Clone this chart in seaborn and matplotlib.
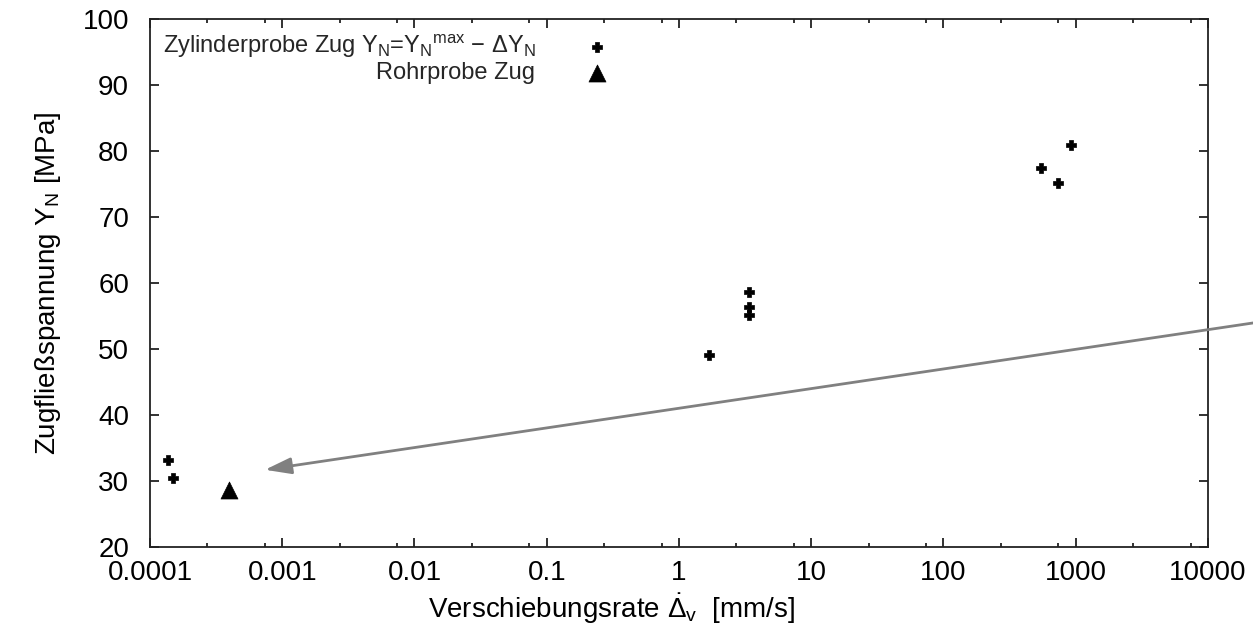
import numpy as np
import pandas as pd
import matplotlib
matplotlib.use("Agg")
import matplotlib.pyplot as plt
import matplotlib.ticker as mticker
import seaborn as sns

# ---- data ----
zyl_rate = [1.37e-4, 1.49e-4, 1.69, 3.38, 3.38, 3.38, 546, 735, 920]
zyl_stress = [33.2, 30.4, 49.1, 58.6, 56.4, 55.2, 77.4, 75.2, 80.9]
rohr_rate = [3.95e-4]
rohr_stress = [28.7]
x_ticks = [1e-4, 1e-3, 1e-2, 1e-1, 1, 10, 100, 1000, 10000]
x_ticklabels = ["0.0001", "0.001", "0.01", "0.1", "1", "10", "100", "1000", "10000"]
y_ticks = [20, 30, 40, 50, 60, 70, 80, 90, 100]
label_zyl = r"Zylinderprobe Zug Y$_\mathrm{N}$=Y$_\mathrm{N}$$^\mathrm{max}$ $-$ $\Delta$Y$_\mathrm{N}$"
label_rohr = "Rohrprobe Zug"
arrow_from = (2.47e4, 54.1)
arrow_to = (7.4e-4, 31.7)

sns.set_theme(style="white")
plt.rcParams["font.family"] = ["Liberation Sans", "DejaVu Sans"]
plt.rcParams["mathtext.fontset"] = "custom"
plt.rcParams["mathtext.rm"] = "Liberation Sans"
plt.rcParams["mathtext.it"] = "Liberation Sans:italic"
plt.rcParams["mathtext.bf"] = "Liberation Sans:bold"

fig = plt.figure(figsize=(12.53, 6.33), dpi=100)
ax = fig.add_axes([150/1253, 1-547/633, (1208-150)/1253, (547-19)/633])

df_z = pd.DataFrame({"rate": zyl_rate, "stress": zyl_stress})
df_r = pd.DataFrame({"rate": rohr_rate, "stress": rohr_stress})
sns.scatterplot(data=df_z, x="rate", y="stress", marker="P", s=55, color="black",
                edgecolor="black", linewidth=0.5, ax=ax, label=label_zyl, zorder=3)
sns.scatterplot(data=df_r, x="rate", y="stress", marker="^", s=150, color="black",
                edgecolor="black", linewidth=0.5, ax=ax, label=label_rohr, zorder=3)

ax.set_xscale("log")
ax.set_xlim(1e-4, 1e4)
ax.set_ylim(20, 100)
ax.xaxis.set_major_locator(mticker.FixedLocator(x_ticks))
ax.set_xticklabels(x_ticklabels)
minor = []
for k in range(-4, 4):
    minor += [np.e * 10**k, np.e**2 * 10**k]
ax.xaxis.set_minor_locator(mticker.FixedLocator(minor))
ax.xaxis.set_minor_formatter(mticker.NullFormatter())
ax.yaxis.set_major_locator(mticker.FixedLocator(y_ticks))
ax.yaxis.set_minor_locator(mticker.NullLocator())

ax.tick_params(which="both", direction="in", top=True, right=True, bottom=True, left=True,
               color="#222222", width=1.3, labelsize=20, labelcolor="black")
ax.tick_params(axis="x", pad=9)
ax.tick_params(axis="y", pad=15)
ax.tick_params(which="major", length=6.5)
ax.tick_params(which="minor", length=3)
for sp in ax.spines.values():
    sp.set_color("#222222")
    sp.set_linewidth(1.3)

ax.set_xlabel(r"Verschiebungsrate $\dot{\Delta}_\mathrm{v}$  [mm/s]", fontsize=20, color="black")
ax.set_ylabel(r"Zugfließspannung Y$_\mathrm{N}$ [MPa]", fontsize=20, color="black")
ax.xaxis.set_label_coords(0.436, -0.085)
ax.yaxis.set_label_coords(-0.082, 0.5)

leg = ax.legend(loc="upper left", markerfirst=False, frameon=False, fontsize=17,
                bbox_to_anchor=(-0.006, 1.01), handletextpad=2.1, labelspacing=0.1,
                borderaxespad=0.4, handlelength=1.0)
try:
    leg._legend_box._children[-1]._children[0].align = "right"
except Exception:
    pass

ax.annotate("", xy=arrow_to, xytext=arrow_from, xycoords="data", textcoords="data",
            annotation_clip=False,
            arrowprops=dict(arrowstyle="-|>,head_length=0.8,head_width=0.25",
                            color="#808080", lw=2, shrinkA=0, shrinkB=0,
                            mutation_scale=20, clip_on=False))

fig.savefig("out.png", dpi=100)
